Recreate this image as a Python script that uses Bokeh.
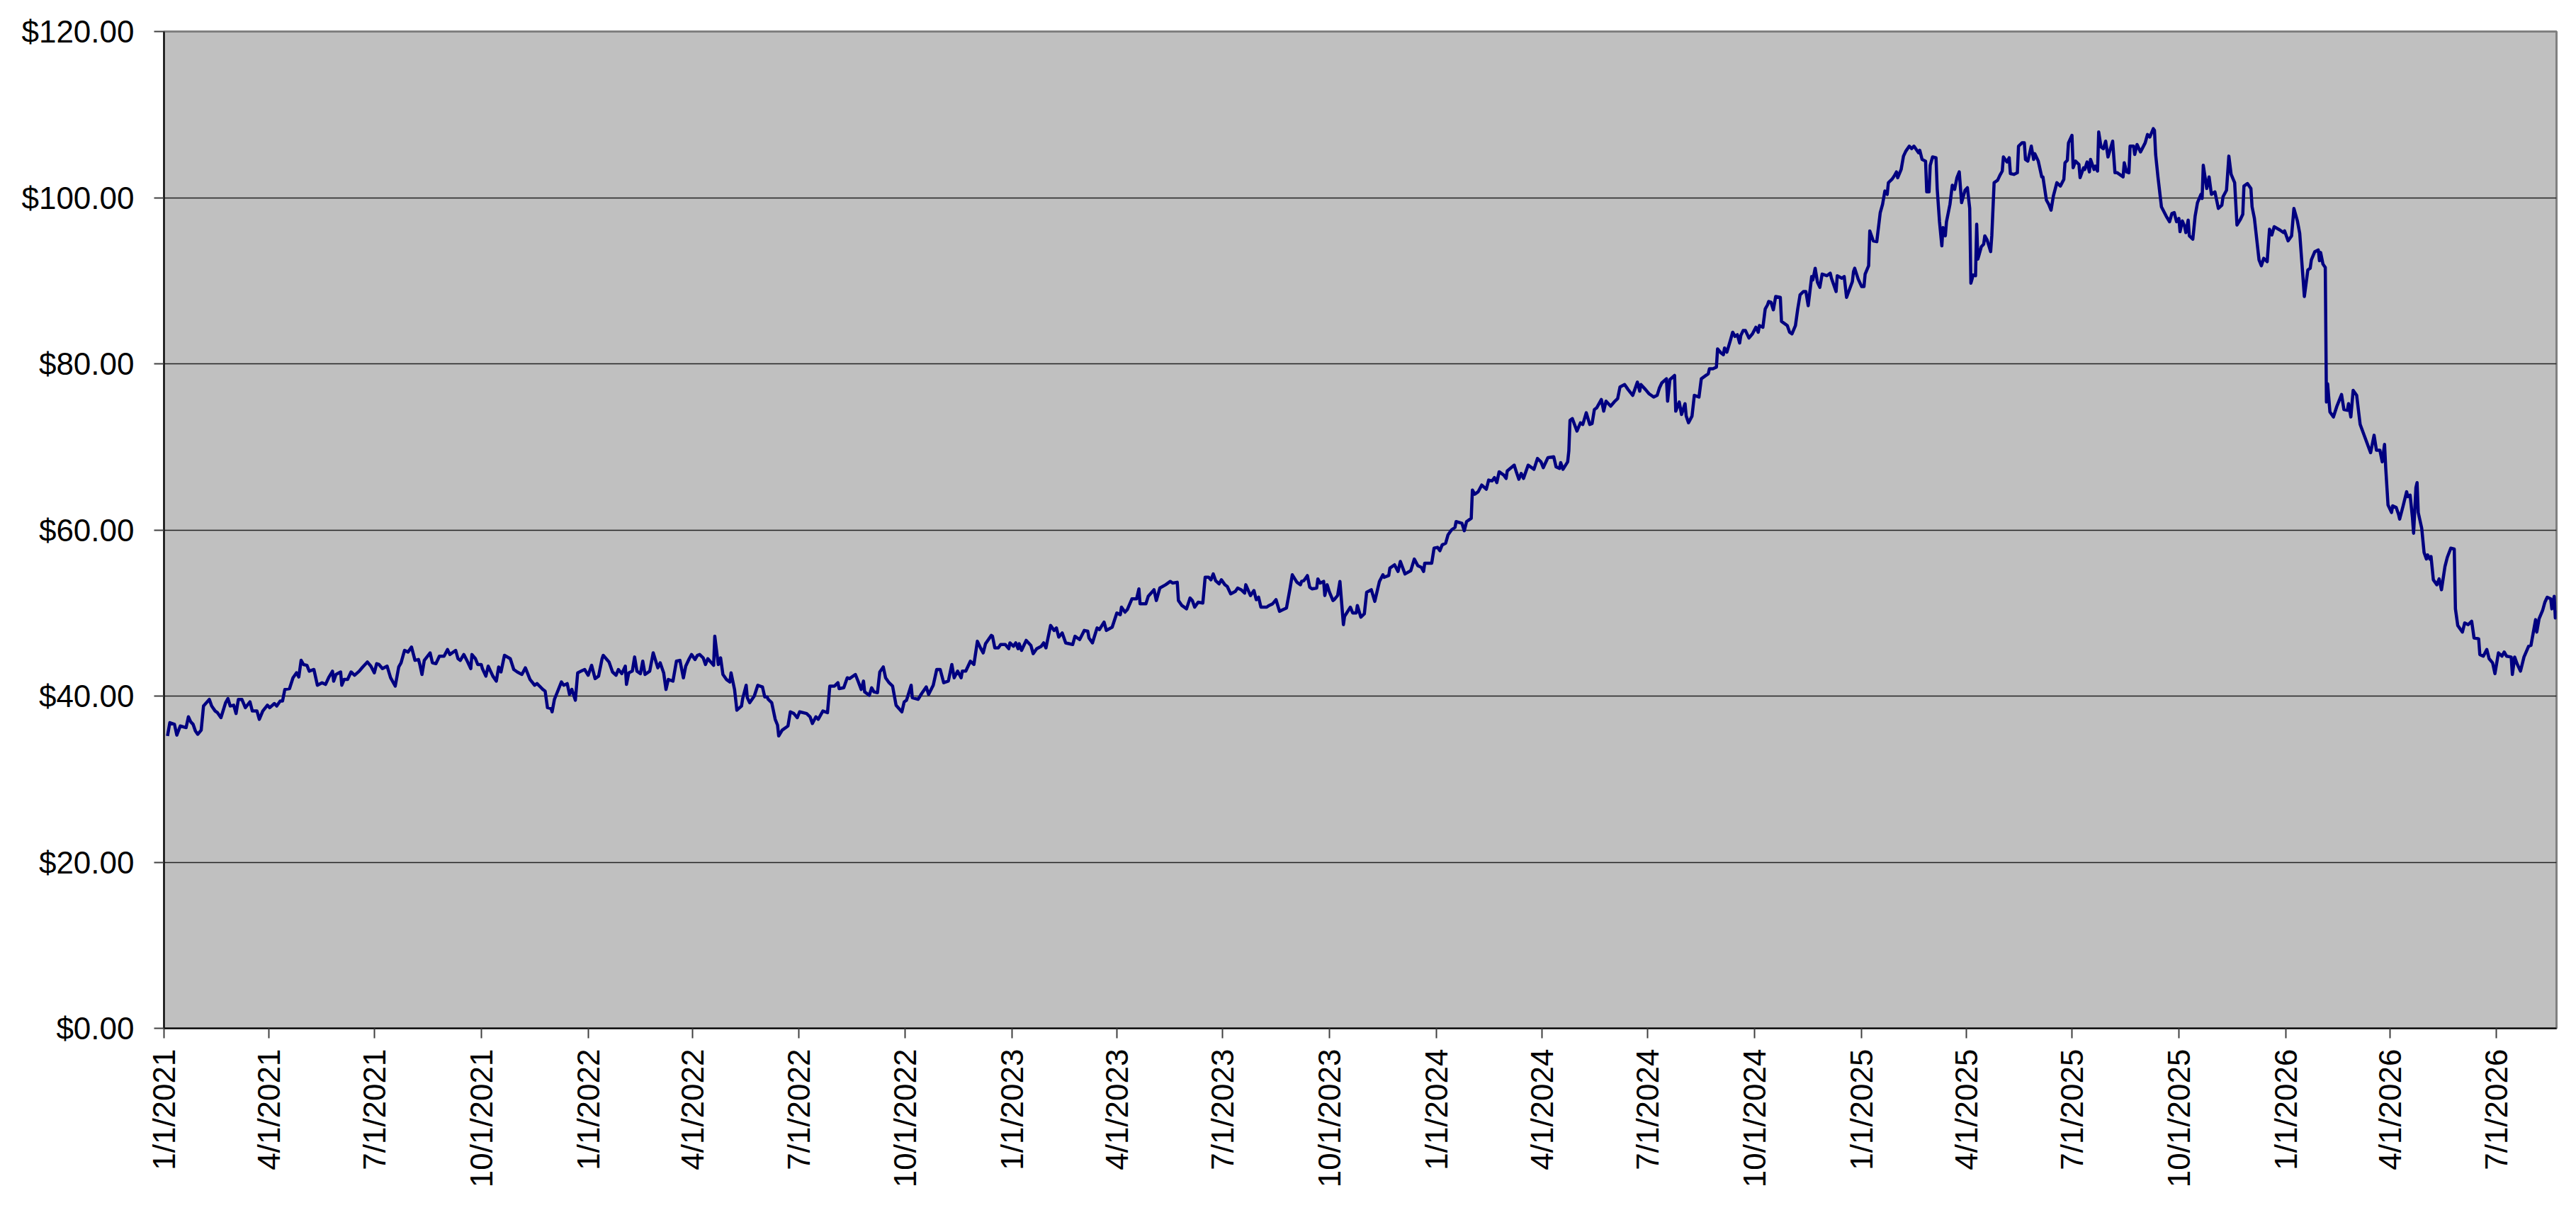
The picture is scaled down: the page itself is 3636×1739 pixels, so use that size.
import math
import pandas as pd
from bokeh.plotting import figure
from bokeh.models import ColumnDataSource, Range1d, FixedTicker
from bokeh.embed import file_html
from bokeh.resources import INLINE

# ---------------- data ----------------
start_date = "2021-01-01"   # trade_day counts calendar days from this date
axis_end_day = 2059

days_2021 = [3, 5, 9, 11, 14, 19, 21, 23, 25, 27,
             29, 32, 34, 39, 41, 44, 46, 49, 53, 55,
             57, 60, 62, 64, 67, 70, 74, 76, 80, 82,
             85, 89, 91, 95, 97, 100, 102, 104, 108, 111,
             114, 116, 118, 120, 123, 125, 129, 132, 136, 139,
             142, 145, 146, 148, 152, 153, 155, 158, 161, 164,
             168, 171, 175, 178, 181, 183, 185, 188, 192, 195,
             199, 202, 204, 207, 210, 213, 216, 219, 220, 222,
             224, 229, 231, 234, 237, 241, 244, 246, 251, 253,
             255, 258, 261, 264, 265, 268, 270, 273, 274, 277,
             279, 283, 286, 288, 290, 293, 298, 301, 304, 308,
             311, 315, 319, 321, 326, 328, 330, 333, 334, 336,
             338, 342, 344, 347, 349]
price_2021 = [35.2, 36.8, 36.6, 35.3, 36.4, 36.2, 37.5, 36.9, 36.6, 35.8,
              35.4, 35.9, 38.8, 39.6, 38.8, 38.2, 38.0, 37.4, 39.2, 39.7,
              38.8, 38.9, 37.9, 39.6, 39.6, 38.6, 39.3, 38.2, 38.2, 37.2,
              38.2, 38.9, 38.6, 39.1, 38.8, 39.4, 39.4, 40.8, 40.9, 42.2,
              42.8, 42.3, 44.3, 43.8, 43.7, 43.0, 43.2, 41.3, 41.6, 41.4,
              42.3, 43.0, 41.8, 42.6, 42.9, 41.3, 42.0, 42.0, 42.9, 42.5,
              43.0, 43.5, 44.1, 43.6, 42.8, 43.9, 43.8, 43.3, 43.6, 42.2,
              41.2, 43.5, 44.0, 45.5, 45.3, 45.9, 44.3, 44.4, 43.9, 42.6,
              44.3, 45.2, 44.0, 43.9, 44.8, 44.8, 45.6, 45.0, 45.5, 44.5,
              44.3, 45.0, 44.2, 43.3, 45.0, 44.5, 43.8, 43.8, 43.3, 42.4,
              43.6, 42.4, 41.8, 43.5, 42.9, 44.9, 44.5, 43.2, 42.9, 42.6,
              43.4, 42.0, 41.3, 41.5, 40.8, 40.6, 38.6, 38.5, 38.1, 39.6,
              40.3, 41.7, 41.3, 41.5, 40.2]

days_2022 = [351, 354, 356, 359, 362, 365, 368, 371, 374, 377,
             378, 383, 386, 389, 391, 394, 397, 398, 400, 403,
             405, 407, 410, 412, 414, 418, 421, 425, 427, 430,
             432, 434, 438, 441, 444, 447, 449, 452, 454, 457,
             459, 461, 464, 466, 468, 473, 474, 477, 479, 481,
             484, 487, 488, 491, 493, 497, 498, 501, 502, 504,
             508, 511, 515, 517, 519, 520, 523, 526, 528, 529,
             532, 537, 539, 542, 545, 547, 553, 556, 558, 561,
             563, 567, 571, 573, 577, 580, 581, 585, 588, 590,
             595, 597, 600, 602, 603, 607, 609, 611, 614, 616,
             619, 621, 624, 627, 630, 635, 637, 639, 643, 644,
             649, 652, 656, 658, 662, 665, 668, 671, 675, 678,
             680, 683, 686, 687, 690]
price_2022 = [40.8, 39.5, 42.8, 43.0, 43.2, 42.5, 43.7, 42.1, 42.4, 44.5,
              44.9, 44.1, 42.9, 42.5, 43.2, 42.7, 43.6, 41.4, 42.8, 43.0,
              44.7, 43.0, 42.7, 44.2, 42.6, 43.0, 45.2, 43.4, 44.0, 42.8,
              40.8, 42.0, 41.8, 44.2, 44.3, 42.2, 43.6, 44.5, 45.0, 44.4,
              44.9, 45.0, 44.6, 43.8, 44.5, 43.7, 47.2, 43.8, 44.6, 42.6,
              42.0, 41.7, 42.8, 40.8, 38.3, 38.8, 39.7, 41.3, 39.8, 39.2,
              40.0, 41.3, 41.1, 39.9, 39.9, 39.6, 39.2, 37.2, 36.5, 35.2,
              35.9, 36.4, 38.1, 37.9, 37.4, 38.1, 37.9, 37.5, 36.7, 37.5,
              37.2, 38.2, 38.0, 41.2, 41.2, 41.6, 40.9, 41.0, 42.2, 42.1,
              42.6, 41.9, 40.8, 41.8, 40.5, 40.1, 41.0, 40.5, 40.4, 42.9,
              43.5, 42.2, 41.6, 41.2, 38.9, 38.1, 39.3, 39.5, 41.3, 39.8,
              39.6, 40.3, 41.1, 40.2, 41.3, 43.2, 43.2, 41.6, 41.8, 43.8,
              42.2, 43.0, 42.2, 43.0, 43.0]

days_2023 = [694, 697, 700, 703, 705, 707, 708, 712, 713, 715,
             718, 720, 724, 727, 728, 731, 733, 735, 736, 738,
             742, 746, 748, 751, 755, 757, 759, 763, 766, 768,
             770, 773, 776, 782, 784, 788, 792, 795, 796, 799,
             803, 805, 809, 811, 816, 820, 823, 824, 827, 829,
             833, 837, 839, 840, 845, 847, 852, 854, 857, 862,
             866, 868, 872, 873, 876, 880, 883, 885, 887, 890,
             894, 896, 899, 901, 903, 905, 908, 910, 913, 915,
             918, 922, 924, 927, 930, 931, 935, 938, 940, 942,
             944, 949, 951, 954, 957, 960, 963, 966, 969, 971,
             975, 978, 979, 981, 984, 986, 988, 992, 993, 995,
             998, 999, 1001, 1003, 1006, 1007, 1010, 1012, 1015, 1016,
             1021, 1023, 1026, 1027, 1030, 1033, 1035, 1039]
price_2023 = [44.2, 43.8, 46.6, 45.7, 45.2, 46.3, 46.5, 47.3, 47.2, 45.8,
              45.8, 46.2, 46.2, 45.7, 46.4, 46.0, 46.4, 45.7, 46.3, 45.5,
              46.7, 46.1, 45.1, 45.7, 46.0, 46.4, 45.8, 48.5, 47.9, 48.2,
              47.1, 47.6, 46.4, 46.2, 47.2, 46.8, 47.9, 47.8, 47.0, 46.4,
              48.2, 48.0, 48.9, 47.9, 48.3, 50.0, 49.8, 50.7, 50.1, 50.4,
              51.7, 51.7, 52.9, 51.1, 51.1, 52.0, 52.8, 51.5, 53.0, 53.4,
              53.8, 53.6, 53.7, 51.5, 50.9, 50.5, 51.8, 51.5, 50.7, 51.3,
              51.2, 54.3, 54.3, 54.0, 54.7, 53.9, 53.5, 54.0, 53.4, 53.2,
              52.3, 52.6, 53.0, 52.8, 52.4, 53.4, 52.1, 52.7, 51.6, 51.9,
              50.7, 50.7, 50.9, 51.1, 51.6, 50.2, 50.4, 50.6, 52.9, 54.6,
              53.7, 53.4, 53.8, 53.9, 54.5, 53.1, 52.9, 53.0, 54.1, 53.6,
              53.8, 52.1, 53.4, 52.5, 51.5, 51.6, 52.1, 53.8, 48.6, 49.6,
              50.7, 50.0, 50.0, 50.9, 49.5, 49.9, 52.5, 52.8]

days_2024 = [1042, 1046, 1049, 1050, 1054, 1055, 1059, 1062, 1064, 1068,
             1073, 1076, 1079, 1082, 1084, 1085, 1091, 1093, 1096, 1098,
             1100, 1103, 1105, 1108, 1111, 1112, 1117, 1119, 1121, 1125,
             1126, 1128, 1131, 1134, 1138, 1140, 1143, 1145, 1147, 1149,
             1153, 1155, 1156, 1162, 1164, 1166, 1168, 1170, 1174, 1179,
             1182, 1185, 1187, 1191, 1196, 1198, 1201, 1202, 1204, 1208,
             1209, 1210, 1212, 1216, 1219, 1221, 1224, 1227, 1229, 1231,
             1233, 1237, 1239, 1241, 1245, 1248, 1251, 1253, 1257, 1260,
             1264, 1268, 1270, 1271, 1275, 1278, 1282, 1285, 1287, 1289,
             1293, 1294, 1296, 1300, 1301, 1304, 1306, 1309, 1310, 1312,
             1315, 1317, 1321, 1323, 1327, 1329,
             1330, 1333, 1336, 1337, 1340, 1342, 1343, 1345, 1348, 1350,
             1352, 1354, 1356, 1357, 1359, 1361, 1364, 1367, 1370, 1372,
             1373, 1376, 1378, 1380, 1381, 1383, 1385]
price_2024 = [51.4, 53.8, 54.6, 54.3, 54.5, 55.4, 55.8, 55.0, 56.2, 54.7,
              55.1, 56.5, 55.7, 55.5, 55.0, 56.0, 56.0, 57.8, 57.9, 57.5,
              58.2, 58.4, 59.4, 60.0, 60.3, 61.0, 60.8, 59.9, 61.0, 61.4,
              64.8, 64.3, 64.6, 65.4, 64.9, 66.0, 65.9, 66.3, 65.7, 67.0,
              66.6, 66.2, 67.1, 67.8, 66.9, 66.1, 66.8, 66.2, 67.8, 67.3,
              68.6, 68.2, 67.5, 68.7, 68.8, 67.6, 67.4, 68.1, 67.3, 68.2,
              69.5, 73.2, 73.4, 71.9, 72.9, 72.7, 74.1, 72.7, 72.8, 74.5,
              74.7, 75.7, 74.3, 75.5, 74.9, 75.4, 75.8, 77.2, 77.5, 76.9,
              76.2, 77.8, 76.7, 77.5, 76.9, 76.4, 76.0, 76.2, 77.1, 77.7,
              78.2, 75.5, 78.1, 78.6, 74.3, 75.4, 73.9, 75.2, 73.7, 72.9,
              73.7, 76.2, 76.0, 78.2, 78.6, 78.8,
              79.4, 79.4, 79.6, 81.8, 81.3, 81.1, 81.9, 81.4, 82.8, 83.8,
              83.3, 83.5, 82.5, 83.4, 84.0, 84.0, 83.1, 83.6, 84.4, 83.8,
              84.6, 84.4, 86.6, 87.1, 87.5, 87.4, 86.5]

days_2025 = [1387, 1391, 1392, 1396, 1397, 1399, 1401, 1404, 1406, 1408,
             1411, 1413, 1415, 1418, 1419, 1421, 1423, 1425, 1427, 1431,
             1434, 1435, 1439, 1440, 1444, 1446, 1448, 1453, 1454, 1455,
             1458, 1461, 1463, 1464, 1467, 1468, 1471, 1474, 1477, 1479,
             1481, 1483, 1484, 1487, 1489, 1491, 1492, 1495, 1497, 1499,
             1502, 1504, 1506, 1510, 1511, 1513, 1516, 1517, 1519, 1520,
             1522, 1525, 1526, 1528, 1530, 1531, 1533, 1534, 1537, 1539,
             1541, 1543, 1545, 1547, 1550, 1552, 1554, 1555, 1557, 1559,
             1560, 1561, 1564, 1566, 1567, 1569, 1572, 1573, 1575, 1578,
             1580, 1582, 1583, 1586, 1588, 1589, 1592, 1595, 1596, 1599,
             1601, 1602, 1604, 1607, 1609, 1610, 1613, 1616, 1617, 1620,
             1622, 1624, 1626, 1629, 1632, 1635, 1636, 1638, 1639, 1642,
             1643, 1645, 1648, 1649, 1652, 1653, 1655, 1657, 1658, 1661,
             1662, 1664, 1665, 1667, 1669, 1671, 1673, 1677, 1679, 1681,
             1684, 1686, 1687, 1689, 1691, 1692, 1695, 1696, 1698, 1701,
             1705, 1707, 1709, 1712, 1713, 1714, 1716, 1719, 1723, 1726,
             1728, 1730, 1732]
price_2025 = [88.1, 88.0, 85.1, 84.7, 84.6, 83.8, 83.6, 84.6, 86.6, 88.3,
              88.7, 88.7, 87.0, 90.5, 90.1, 91.5, 89.8, 89.2, 90.8, 90.6,
              90.9, 90.3, 88.7, 90.6, 90.3, 90.5, 88.0, 89.9, 91.1, 91.5,
              90.2, 89.3, 89.3, 90.8, 91.8, 96.0, 94.8, 94.7, 98.2, 99.2,
              100.8, 100.4, 101.8, 102.2, 102.6, 103.1, 102.4, 103.4, 105.0, 105.6,
              106.2, 105.9, 106.2, 105.4, 105.7, 104.6, 104.4, 100.7, 100.7, 103.9,
              104.9, 104.8, 101.1, 97.1, 94.2, 96.4, 95.4, 97.1, 99.2, 101.5,
              101.0, 102.4, 103.1, 99.4, 100.9, 101.2, 98.7, 89.7, 90.7, 90.6,
              96.8, 92.6, 94.1, 94.4, 95.4, 94.9, 93.5, 95.4, 101.8, 102.1,
              102.7, 103.2, 104.9, 104.3, 104.8, 102.9, 102.8, 103.0, 106.2, 106.6,
              106.6, 104.6, 104.4, 106.2, 104.6, 105.3, 104.4, 102.5, 102.5, 99.7,
              99.2, 98.5, 100.2, 101.8, 101.4, 102.2, 104.2, 104.5, 106.6, 107.5,
              103.6, 104.4, 104.0, 102.4, 103.6, 103.4, 104.3, 103.1, 104.6, 103.4,
              103.8, 103.2, 107.9, 106.1, 105.9, 106.8, 104.9, 106.8, 103.0, 103.0,
              102.7, 102.5, 104.2, 103.1, 103.0, 106.2, 106.2, 105.2, 106.4, 105.5,
              106.6, 107.6, 107.3, 108.3, 108.1, 105.2, 102.5, 98.9, 97.8, 97.1,
              98.1, 98.2, 97.1]

days_2026 = [1734, 1735, 1737, 1739, 1740, 1742, 1743, 1746, 1748, 1750,
             1753, 1754, 1755, 1758, 1760, 1762, 1765, 1768, 1771, 1772,
             1775, 1777, 1779, 1782, 1784, 1787, 1789, 1790, 1793, 1796,
             1797, 1799, 1803, 1805, 1807, 1810, 1812, 1814, 1816, 1821,
             1824, 1825, 1828, 1831, 1833, 1836, 1838, 1839, 1842, 1845,
             1847, 1848, 1851, 1854, 1855, 1856, 1858, 1860, 1861, 1862,
             1864, 1867, 1870, 1874, 1876, 1879, 1880, 1882, 1884, 1887, 1890,
             1899, 1902, 1904, 1907, 1909, 1911, 1912, 1914, 1917, 1918,
             1921, 1923, 1924, 1927, 1930, 1931, 1933, 1935, 1936, 1938,
             1939, 1940, 1943, 1945, 1947, 1948, 1950, 1951, 1953, 1956,
             1958, 1960, 1963, 1965, 1968, 1971, 1972, 1974, 1978, 1980,
             1983, 1986, 1988, 1992, 1993, 1996, 1999, 2001, 2004, 2006,
             2009, 2012, 2014, 2016, 2020, 2021, 2023, 2025, 2028, 2031,
             2035, 2037, 2041, 2042, 2044, 2047, 2049, 2051, 2054, 2055,
             2057, 2058, 2059]
price_2026 = [97.5, 95.9, 97.2, 96.5, 95.8, 97.3, 95.4, 95.0, 97.8, 99.4,
              100.4, 99.9, 103.9, 101.1, 102.5, 100.4, 100.7, 98.7, 99.1, 100.1,
              100.9, 105.0, 102.8, 101.8, 96.7, 97.4, 98.0, 101.4, 101.7, 101.1,
              98.9, 97.5, 92.5, 91.8, 92.7, 92.3, 96.2, 95.5, 96.5, 96.1,
              95.8, 96.0, 94.8, 95.4, 98.7, 97.2, 95.7, 93.8, 88.1, 91.3,
              91.5, 92.5, 93.5, 93.7, 92.4, 93.4, 92.0, 91.6, 75.4, 77.6,
              74.2, 73.6, 74.9, 76.3, 74.5, 74.4, 75.2, 73.6, 76.8, 76.2, 72.7,
              69.3, 71.4, 69.6, 69.6, 68.2, 70.3, 67.5, 63.0, 62.1, 62.9,
              62.7, 61.9, 61.3, 62.9, 64.6, 64.0, 64.2, 61.5, 59.6, 65.1,
              65.7, 62.1, 60.2, 57.3, 56.5, 57.0, 56.5, 56.8, 54.0, 53.4,
              54.1, 52.8, 55.6, 56.7, 57.8, 57.7, 50.5, 48.5, 47.7, 48.8,
              48.6, 49.0, 47.0, 46.9, 45.0, 44.8, 45.6, 44.5, 44.0, 42.7,
              45.2, 44.8, 45.3, 44.8, 44.7, 42.6, 44.7, 43.9, 43.0, 44.7,
              46.0, 46.1, 49.2, 47.7, 49.3, 50.3, 51.3, 51.9, 51.7, 50.5,
              52.0, 49.4, 50.3]

x_tick_labels = ["1/1/2021", "4/1/2021", "7/1/2021", "10/1/2021",
                 "1/1/2022", "4/1/2022", "7/1/2022", "10/1/2022",
                 "1/1/2023", "4/1/2023", "7/1/2023", "10/1/2023",
                 "1/1/2024", "4/1/2024", "7/1/2024", "10/1/2024",
                 "1/1/2025", "4/1/2025", "7/1/2025", "10/1/2025",
                 "1/1/2026", "4/1/2026", "7/1/2026"]
y_tick_values = [0, 20, 40, 60, 80, 100, 120]
y_tick_labels = ["$0.00", "$20.00", "$40.00", "$60.00", "$80.00", "$100.00", "$120.00"]

# ---------------- assemble ----------------
day_segments = [days_2021, days_2022, days_2023, days_2024, days_2025, days_2026]
price_segments = [price_2021, price_2022, price_2023, price_2024, price_2025, price_2026]
all_days, all_prices = [], []
for d, pr in zip(day_segments, price_segments):
    n = min(len(d), len(pr))
    all_days += d[:n]
    all_prices += pr[:n]

base = pd.Timestamp(start_date)
dates = base + pd.to_timedelta(all_days, unit="D")
source = ColumnDataSource(data=dict(date=dates, price=all_prices))

def to_ms(ts):
    return int(pd.Timestamp(ts).value // 10**6)

tick_dates = pd.to_datetime(x_tick_labels, format="%m/%d/%Y")
x_ticks = [to_ms(t) for t in tick_dates]

FONT = "Liberation Sans"

p = figure(width=3620, height=1720, x_axis_type="datetime",
           x_range=Range1d(to_ms(base), to_ms(base + pd.Timedelta(days=axis_end_day))),
           y_range=Range1d(0, 120),
           output_backend="svg", toolbar_location=None,
           min_border_left=231, min_border_right=12,
           min_border_top=44, min_border_bottom=269)

p.background_fill_color = "#C0C0C0"
p.border_fill_color = "white"
p.outline_line_color = "#808080"
p.outline_line_width = 3

p.xgrid.visible = False
p.ygrid.ticker = FixedTicker(ticks=y_tick_values)
p.ygrid.grid_line_color = "#222222"
p.ygrid.grid_line_width = 1.6

p.line(x="date", y="price", source=source, line_color="#000080",
       line_width=4.5, line_join="round")

# x axis
xa = p.xaxis[0]
xa.ticker = FixedTicker(ticks=x_ticks)
xa.major_label_overrides = {t: lab for t, lab in zip(x_ticks, x_tick_labels)}
xa.major_label_orientation = math.pi / 2
xa.major_label_standoff = 15
xa.minor_tick_line_color = None

# y axis
ya = p.yaxis[0]
ya.ticker = FixedTicker(ticks=y_tick_values)
ya.major_label_overrides = {v: lab for v, lab in zip(y_tick_values, y_tick_labels)}
ya.major_label_standoff = 28
ya.minor_tick_line_color = None

for ax in (xa, ya):
    ax.axis_line_color = "#000000"
    ax.axis_line_width = 2
    ax.major_tick_line_color = "#404040"
    ax.major_tick_line_width = 2
    ax.major_tick_out = 14
    ax.major_tick_in = 0
    ax.major_label_text_font = FONT
    ax.major_label_text_font_size = "44px"
    ax.major_label_text_color = "#000000"

open("out.html", "w").write(file_html(p, INLINE))
